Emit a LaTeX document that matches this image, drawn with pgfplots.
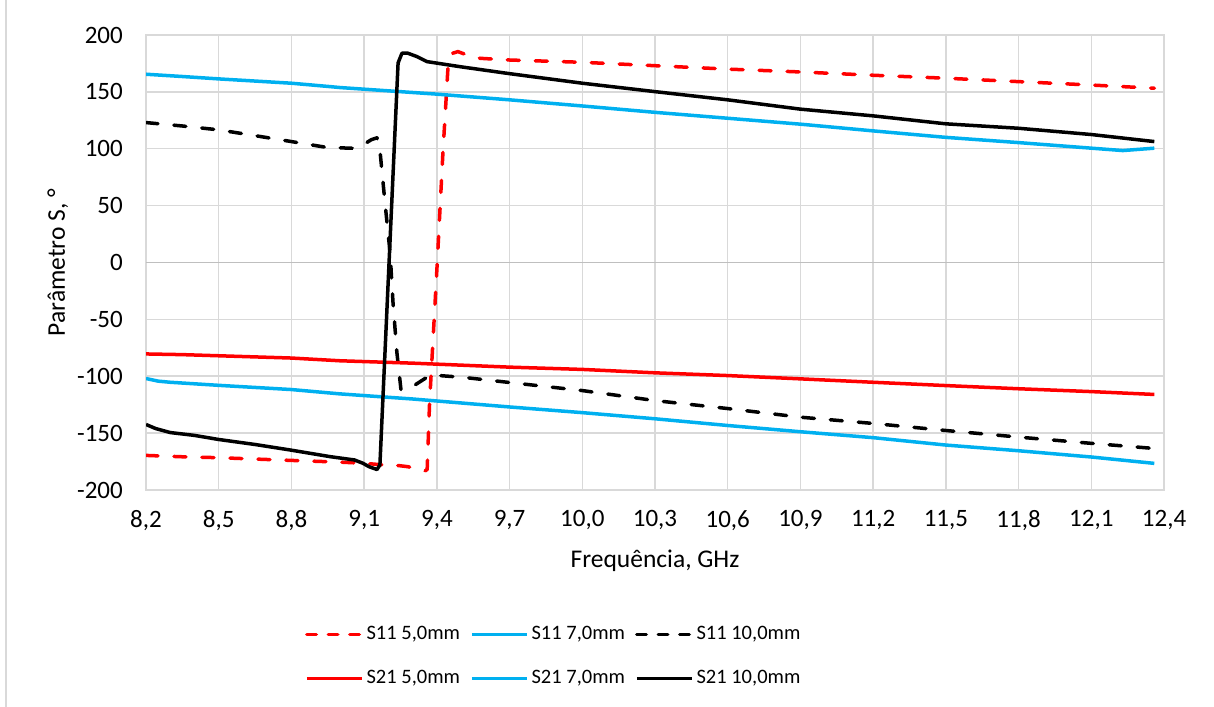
\documentclass[border=0pt]{standalone}
\usepackage{fontspec}
\setmainfont{Carlito}
\usepackage{pgfplots}
\pgfplotsset{compat=1.18}
\definecolor{gridgray}{HTML}{D9D9D9}
\definecolor{axgray}{HTML}{BFBFBF}
\definecolor{xlred}{HTML}{FF0000}
\definecolor{xlcyan}{HTML}{00B0F0}
\pgfplotsset{
  solidleg/.style={legend image code/.code={\draw[##1] (0bp,0bp) -- (55bp,0bp);}},
  dashleg/.style={legend image code/.code={\draw[##1, dash pattern=on 9.5bp off 12bp] (0bp,0bp) -- (55bp,0bp);}},
}
\begin{document}
\fontsize{22bp}{26bp}\selectfont
\begin{tikzpicture}[x=1bp,y=1bp]
\path[use as bounding box] (0,0) rectangle (1214,707);
\draw[gridgray, line width=2bp] (6,0) -- (6,707);
\begin{axis}[
  at={(146bp,217bp)}, anchor=south west,
  scale only axis, width=1018bp, height=455bp,
  xmin=8.2, xmax=12.4, ymin=-200, ymax=200,
  xtick={8.2,8.5,8.8,9.1,9.4,9.7,10.0,10.3,10.6,10.9,11.2,11.5,11.8,12.1,12.4},
  ytick={-200,-150,-100,-50,0,50,100,150,200},
  grid=major, major grid style={gridgray, line width=1.5bp},
  axis line style={gridgray, line width=1.5bp},
  tick style={draw=none},
  extra y ticks={0}, extra y tick labels={},
  extra y tick style={grid=major, major grid style={axgray, line width=1.5bp}},
  ticklabel style={font=\fontsize{25bp}{30bp}\selectfont, inner sep=0pt},
  xticklabel style={anchor=north, yshift=-20bp, /pgf/number format/.cd, fixed, fixed zerofill, precision=1, use comma, assume math mode=true},
  yticklabel style={anchor=east, xshift=-23bp, /pgf/number format/assume math mode=true},
  xlabel={Frequência, GHz},
  ylabel={Parâmetro S, °},
  label style={font=\fontsize{25.5bp}{30bp}\selectfont, inner sep=0pt},
  xlabel style={at={(axis description cs:0.5,0)}, anchor=base, yshift=-78bp},
  ylabel style={at={(axis description cs:-0.0796,0.5)}, anchor=base},
  legend columns=3,
  legend cell align=left,
  legend style={at={(axis description cs:0.401,-0.366)}, anchor=center, draw=none, fill=none,
    font=\fontsize{20.5bp}{24bp}\selectfont,
    nodes={inner xsep=3bp, inner ysep=0pt},
    /tikz/every even column/.append style={column sep=7bp},
    /tikz/row sep=27bp},
  solidleg,
  every axis plot/.append style={line width=3.5bp, line join=round},
]
% S11 5,0mm
\addplot[xlred, dash pattern=on 12bp off 16bp, line cap=round, dashleg] coordinates {
(8.20,-169.6) (8.35,-170.8) (8.50,-171.6) (8.65,-172.8) (8.80,-174.0) (9.00,-175.5)
(9.10,-176.5) (9.17,-177.8) (9.24,-178.5) (9.28,-179.5) (9.32,-181.5) (9.35,-183.4)
(9.36,-182) (9.37,-123) (9.40,-6.5) (9.425,96.6) (9.446,172) (9.466,184) (9.487,185.4)
(9.524,182.4) (9.578,179.5) (9.70,178) (10.0,176) (10.3,173) (10.6,170) (10.9,167.5)
(11.2,164.6) (11.5,162) (11.8,159) (12.1,156) (12.36,153.2)
};
\addlegendentry{S11 5,0mm}
% S11 7,0mm
\addplot[xlcyan] coordinates {
(8.20,165.5) (8.35,163.5) (8.50,161.4) (8.80,157.6) (8.96,154.6) (9.00,153.8) (9.40,148)
(9.70,143) (10.0,137.6) (10.3,132) (10.6,126.8) (10.9,121.6) (11.2,115.7) (11.5,110)
(11.8,105.4) (12.1,100.5) (12.23,98.4) (12.36,100.5)
};
\addlegendentry{S11 7,0mm}
% S11 10,0mm
\addplot[black, dash pattern=on 12bp off 16bp, line cap=round, dashleg] coordinates {
(8.20,123) (8.35,120) (8.50,116.6) (8.65,111.5) (8.80,106.3) (8.95,101) (9.05,100.5)
(9.10,104) (9.13,108) (9.153,109.6) (9.165,99) (9.186,52.5) (9.207,8.6) (9.219,-35)
(9.235,-79) (9.252,-112) (9.30,-109) (9.37,-99.4) (9.41,-99.4) (9.51,-101) (9.70,-105.5)
(10.0,-112.6) (10.3,-121.4) (10.6,-128.4) (10.9,-136) (11.2,-141.5) (11.5,-147.7)
(11.8,-153.5) (12.1,-159) (12.36,-163.5)
};
\addlegendentry{S11 10,0mm}
% S21 5,0mm
\addplot[xlred] coordinates {
(8.20,-80.4) (8.35,-81) (8.50,-82) (8.80,-84) (9.00,-86.4) (9.30,-88.5) (9.70,-92)
(10.0,-94) (10.3,-97) (10.6,-99.4) (10.9,-102.3) (11.2,-105.3) (11.5,-108.2)
(11.8,-111) (12.1,-113.5) (12.36,-116)
};
\addlegendentry{S21 5,0mm}
% S21 7,0mm
\addplot[xlcyan] coordinates {
(8.20,-102) (8.25,-104.3) (8.30,-105.3) (8.50,-108) (8.80,-111.7) (9.00,-115.5)
(9.30,-120) (9.70,-127) (10.0,-132) (10.3,-137.4) (10.6,-143.3) (10.9,-148.8)
(11.2,-154) (11.5,-160.5) (11.8,-165.5) (12.1,-171) (12.36,-176.6)
};
\addlegendentry{S21 7,0mm}
% S21 10,0mm
\addplot[black] coordinates {
(8.20,-142.4) (8.24,-146) (8.30,-149.5) (8.40,-152) (8.50,-155.6) (8.65,-160)
(8.80,-165) (8.96,-170.7) (9.06,-173.6) (9.095,-176.5) (9.12,-179.5) (9.153,-182)
(9.165,-178) (9.24,175.4) (9.256,184) (9.28,184) (9.318,181) (9.359,176.6) (9.50,172)
(9.70,166) (10.0,157.6) (10.3,150.2) (10.6,143) (10.9,134.8) (11.2,128.9)
(11.5,121.9) (11.8,118) (12.1,112.5) (12.36,106.3)
};
\addlegendentry{S21 10,0mm}
\end{axis}
\end{tikzpicture}
\end{document}
